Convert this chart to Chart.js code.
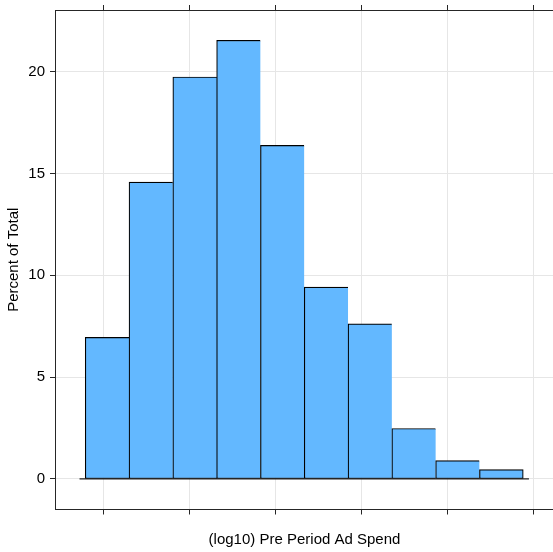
<!DOCTYPE html>
<html><head><meta charset="utf-8">
<script src="https://cdn.jsdelivr.net/npm/chart.js@4"></script>
<style>html,body{margin:0;padding:0;overflow:hidden;background:#fff}#wrap{position:relative;width:560px;height:552px}</style>
</head><body><div id="wrap"><canvas id="c"></canvas></div>
<script>
// ---- data ----
const binEdges = [0.782, 1.292, 1.802, 2.312, 2.822, 3.332, 3.842, 4.352, 4.862, 5.372, 5.882];
const percentOfTotal = [6.95, 14.58, 19.74, 21.54, 16.38, 9.42, 7.62, 2.48, 0.90, 0.46];
const xTickValues = [1, 2, 3, 4, 5, 6];
const yTickValues = [0, 5, 10, 15, 20];
const xTitle = '(log10) Pre Period Ad Spend';
const yTitle = 'Percent of Total';

// ---- build ----
const barPoints = percentOfTotal.map((v, i) => ({x: (binEdges[i] + binEdges[i + 1]) / 2, y: v}));
const binW = binEdges[1] - binEdges[0];
const ext = 0.13 * binW;
const baseline = [{x: binEdges[0] - ext, y: 0}, {x: binEdges[binEdges.length - 1] + ext, y: 0}];

const FONT = {family: '"Liberation Sans", Arial, Helvetica, sans-serif', size: 15};
const AXIS = '#262626';
const GRID = '#e6e6e6';
const lastIdx = percentOfTotal.length - 1;
const noPad = (s) => { s.paddingTop = 0; s.paddingBottom = 0; s.paddingLeft = 0; s.paddingRight = 0; };

new Chart(document.getElementById('c'), {
  type: 'bar',
  data: {
    datasets: [
      {
        type: 'line', data: baseline, borderColor: '#222222', borderWidth: 1.2,
        pointRadius: 0, fill: false, order: 2, xAxisID: 'x', yAxisID: 'y'
      },
      {
        type: 'bar', data: barPoints, backgroundColor: '#63B8FF', borderColor: '#000000',
        borderWidth: (ctx) => ({top: 1.2, left: 1.2, bottom: 1, right: ctx.dataIndex === lastIdx ? 1.2 : 0}),
        borderSkipped: false, barPercentage: 1, categoryPercentage: 1, grouped: false,
        order: 1, xAxisID: 'x', yAxisID: 'y'
      }
    ]
  },
  options: {
    responsive: true, maintainAspectRatio: false, animation: false,
    layout: {padding: {left: 0, right: 6, top: 0, bottom: 0}},
    plugins: {legend: {display: false}, tooltip: {enabled: false}},
    scales: {
      x: {
        type: 'linear', position: 'bottom', min: 0.43, max: 6.24, offset: false,
        afterBuildTicks: (s) => { s.ticks = xTickValues.map(v => ({value: v})); },
        afterFit: (s) => { s.height = 42.5; noPad(s); },
        ticks: {callback: () => '', autoSkip: false, font: FONT, padding: 0},
        grid: {offset: false, color: GRID, lineWidth: 1, drawTicks: true, tickLength: 5, tickColor: AXIS, tickWidth: 1},
        border: {display: true, color: AXIS, width: 1},
        title: {display: true, text: xTitle, font: FONT, color: '#000', padding: {top: 0, bottom: 3}}
      },
      x2: {
        type: 'linear', position: 'top', min: 0.43, max: 6.24, offset: false,
        afterBuildTicks: (s) => { s.ticks = xTickValues.map(v => ({value: v})); },
        afterFit: (s) => { s.height = 10; noPad(s); },
        ticks: {callback: () => '', autoSkip: false, padding: 0},
        grid: {offset: false, drawOnChartArea: false, drawTicks: true, tickLength: 5, tickColor: AXIS, tickWidth: 1, color: AXIS},
        border: {display: true, color: AXIS, width: 1}
      },
      y: {
        type: 'linear', position: 'left', min: -1.5, max: 23.03,
        afterBuildTicks: (s) => { s.ticks = yTickValues.map(v => ({value: v})); },
        afterFit: (s) => { s.width = 55; noPad(s); },
        ticks: {font: FONT, color: '#000', padding: 5, autoSkip: false},
        grid: {color: GRID, lineWidth: 1, drawTicks: true, tickLength: 5, tickColor: AXIS, tickWidth: 1},
        border: {display: true, color: AXIS, width: 1},
        title: {display: true, text: yTitle, font: FONT, color: '#000', padding: {top: 5, bottom: 0}}
      }
    }
  }
});
</script>
</body></html>
